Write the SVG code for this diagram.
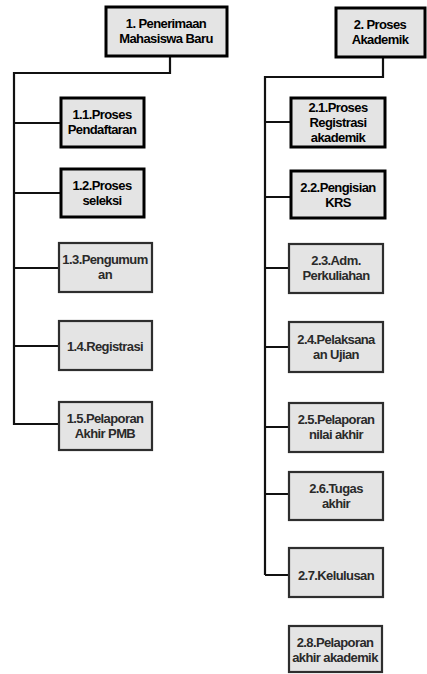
<svg xmlns="http://www.w3.org/2000/svg" width="427" height="674" viewBox="0 0 427 674">
<style>
.bg{fill:#ffffff}
.box{fill:#e4e4e4}
.dark{stroke:#000;stroke-width:3}
.grey{stroke:#2e2e2e;stroke-width:2.2}
.t{font-family:"Liberation Sans",Arial,sans-serif;font-size:13px;font-weight:bold;text-anchor:middle;letter-spacing:-0.6px}
.td{fill:#000}
.tg{fill:#2a2a2a}
.c{fill:none;stroke:#111;stroke-width:2.2}
</style>
<rect class="bg" x="0" y="0" width="427" height="674"/>
<g id="connectors">
<path class="c" d="M170 56V73H14V425"/>
<path class="c" d="M14 123H60M14 193H60M14 268H59M14 346H58M14 424H58"/>
<path class="c" d="M383 57V77H265V575"/>
<path class="c" d="M265 122H290M265 197H290M265 268H288M265 347H288M265 427H288M265 494H288M265 575H288"/>
</g>
<g id="n1"><rect class="box dark" x="106" y="7" width="121" height="49"/><text class="t td" x="166" y="28">1. Penerimaan</text><text class="t td" x="166" y="43">Mahasiswa Baru</text></g>
<g id="n1-1"><rect class="box dark" x="61" y="98" width="83" height="49"/><text class="t td" x="102" y="119">1.1.Proses</text><text class="t td" x="102" y="134">Pendaftaran</text></g>
<g id="n1-2"><rect class="box dark" x="61" y="169" width="83" height="48"/><text class="t td" x="102" y="190">1.2.Proses</text><text class="t td" x="102" y="205">seleksi</text></g>
<g id="n1-3"><rect class="box grey" x="59" y="243" width="93" height="49"/><text class="t tg" x="105" y="264">1.3.Pengumum</text><text class="t tg" x="105" y="279">an</text></g>
<g id="n1-4"><rect class="box grey" x="59" y="321" width="93" height="49"/><text class="t tg" x="105" y="351">1.4.Registrasi</text></g>
<g id="n1-5"><rect class="box grey" x="59" y="402" width="93" height="48"/><text class="t tg" x="105" y="423">1.5.Pelaporan</text><text class="t tg" x="105" y="438">Akhir PMB</text></g>
<g id="n2"><rect class="box dark" x="336" y="8" width="89" height="49"/><text class="t td" x="380" y="29">2. Proses</text><text class="t td" x="380" y="44">Akademik</text></g>
<g id="n2-1"><rect class="box dark" x="291" y="98" width="94" height="49"/><text class="t td" x="338" y="112">2.1.Proses</text><text class="t td" x="338" y="127">Registrasi</text><text class="t td" x="338" y="142">akademik</text></g>
<g id="n2-2"><rect class="box dark" x="291" y="171" width="94" height="47"/><text class="t td" x="338" y="192">2.2.Pengisian</text><text class="t td" x="338" y="207">KRS</text></g>
<g id="n2-3"><rect class="box grey" x="289" y="244" width="94" height="49"/><text class="t tg" x="336" y="265">2.3.Adm.</text><text class="t tg" x="336" y="280">Perkuliahan</text></g>
<g id="n2-4"><rect class="box grey" x="289" y="322" width="94" height="50"/><text class="t tg" x="336" y="344">2.4.Pelaksana</text><text class="t tg" x="336" y="359">an Ujian</text></g>
<g id="n2-5"><rect class="box grey" x="289" y="403" width="94" height="49"/><text class="t tg" x="336" y="424">2.5.Pelaporan</text><text class="t tg" x="336" y="439">nilai akhir</text></g>
<g id="n2-6"><rect class="box grey" x="289" y="472" width="94" height="48"/><text class="t tg" x="336" y="493">2.6.Tugas</text><text class="t tg" x="336" y="508">akhir</text></g>
<g id="n2-7"><rect class="box grey" x="289" y="548" width="94" height="49"/><text class="t tg" x="336" y="580">2.7.Kelulusan</text></g>
<g id="n2-8"><rect class="box grey" x="289" y="626" width="93" height="46"/><text class="t tg" x="335" y="647">2.8.Pelaporan</text><text class="t tg" x="335" y="662">akhir akademik</text></g>
</svg>
